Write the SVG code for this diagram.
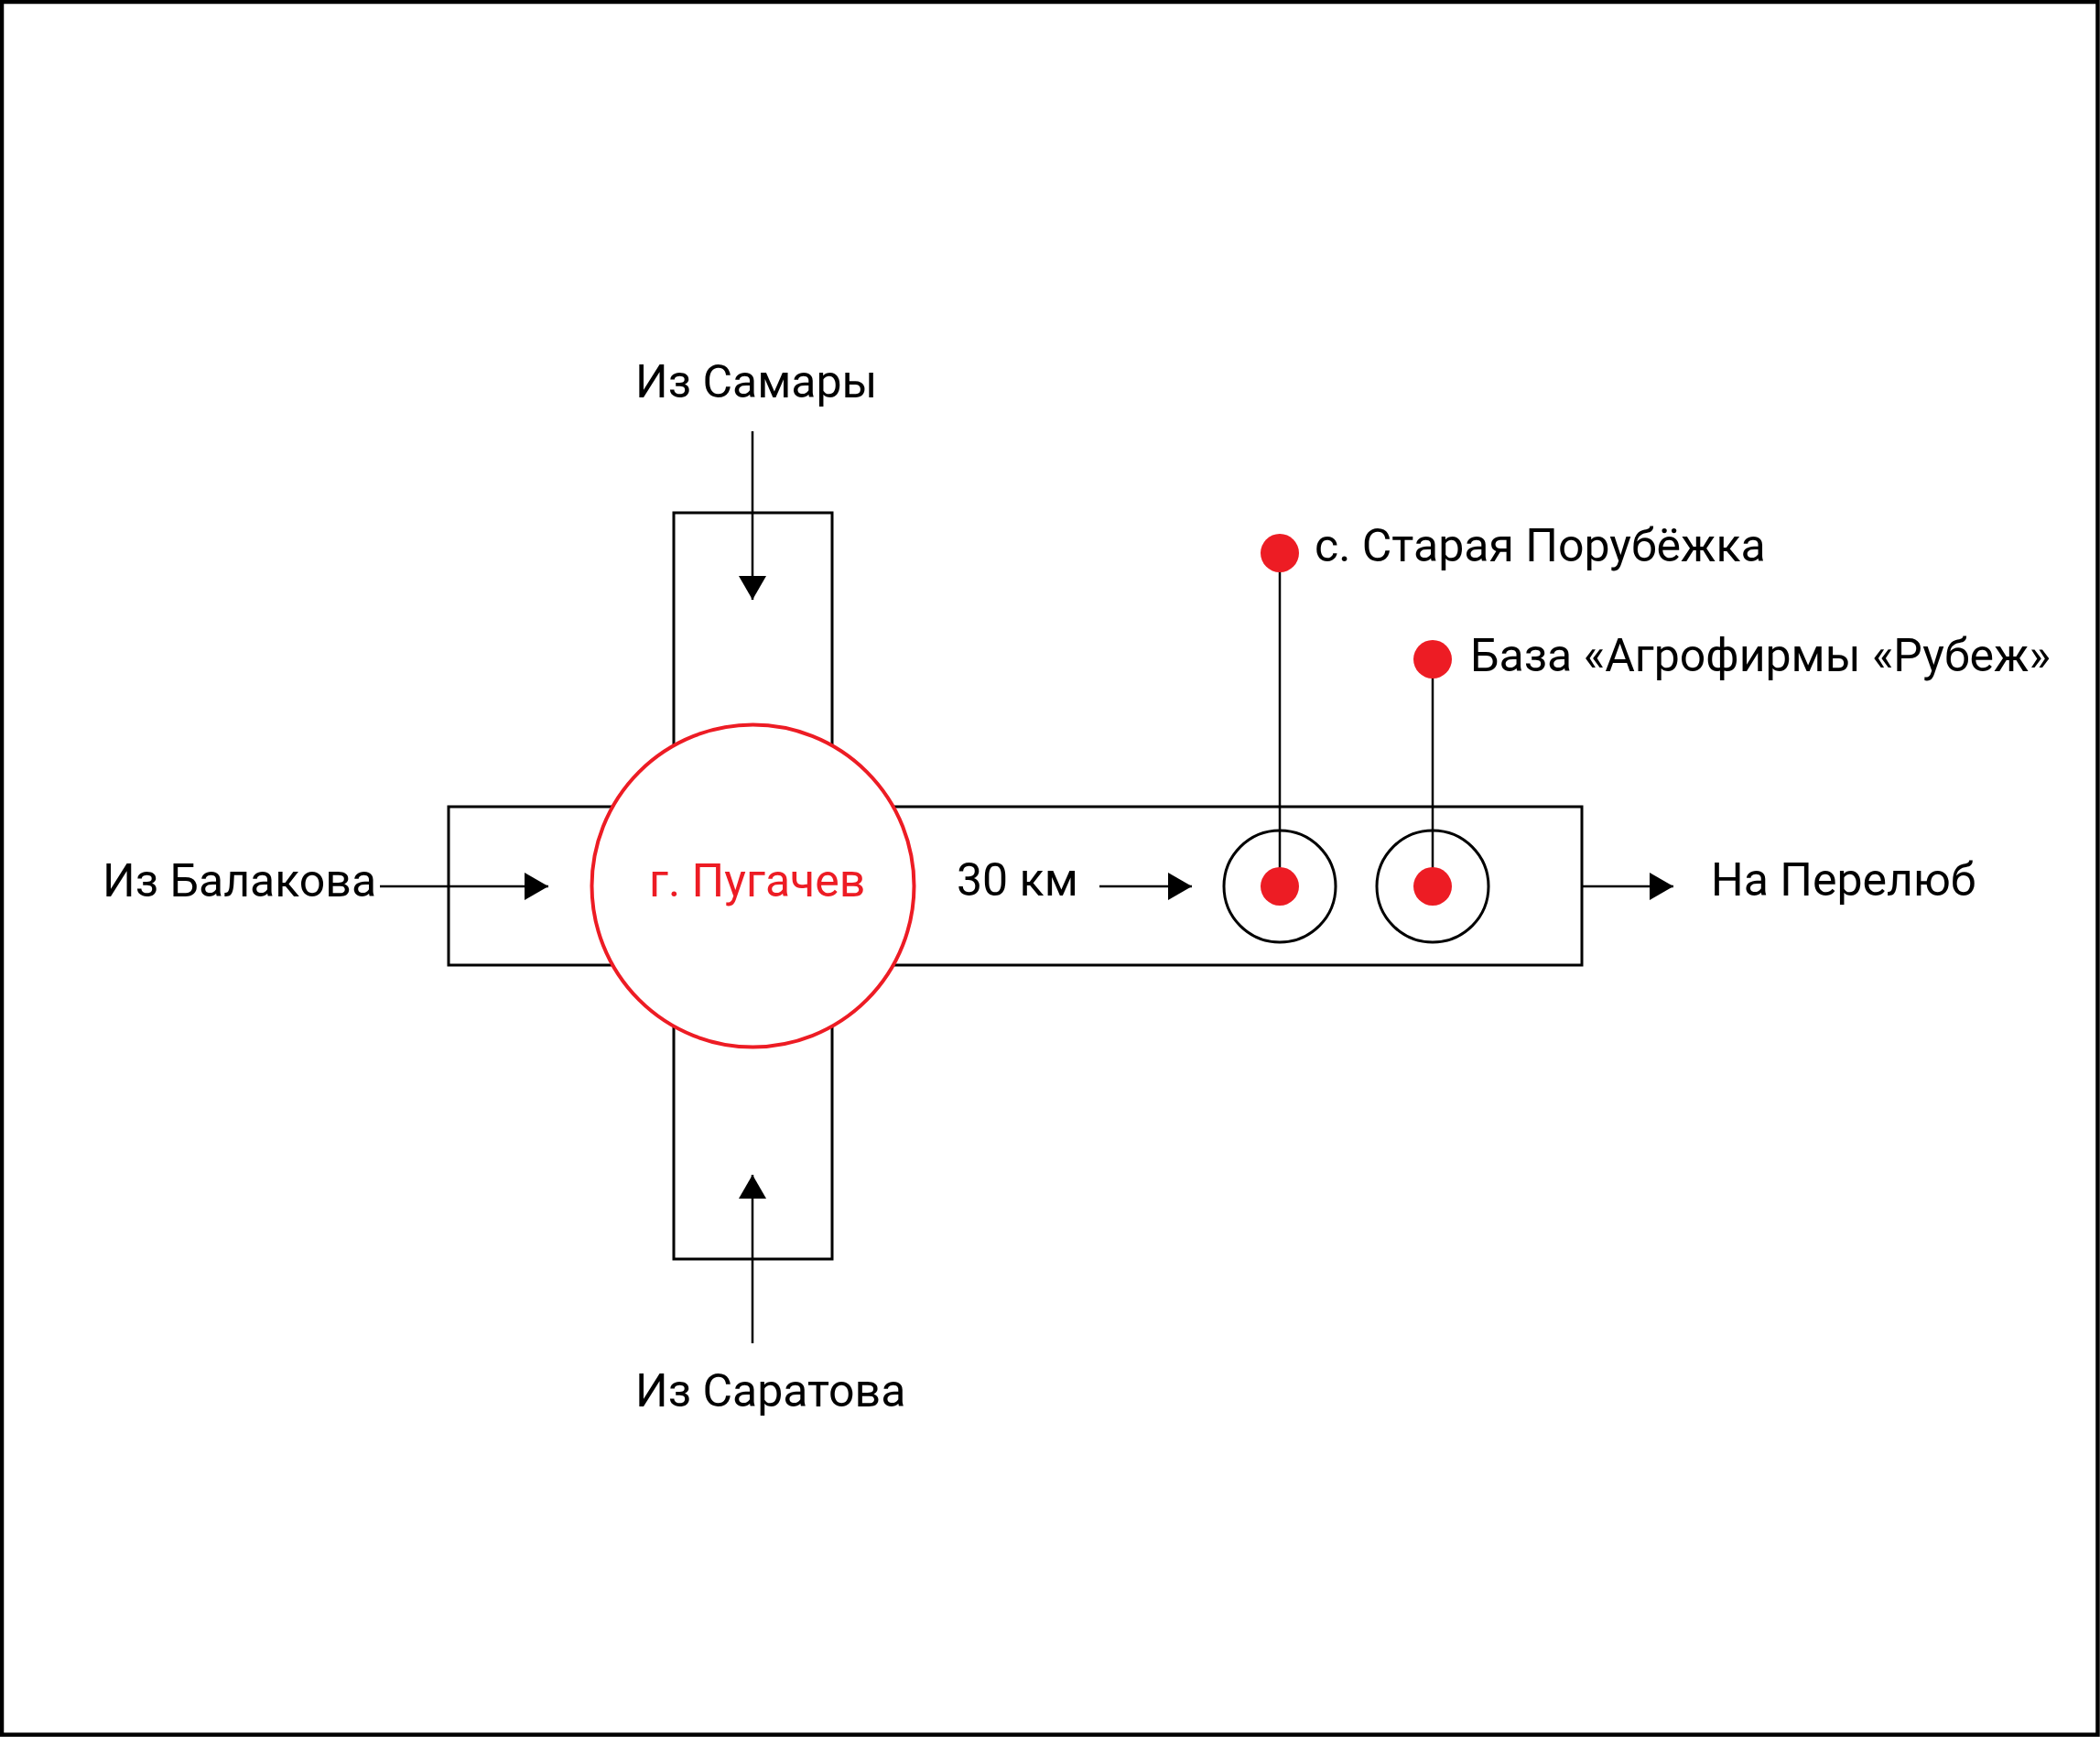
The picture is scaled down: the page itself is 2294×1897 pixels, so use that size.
<svg xmlns="http://www.w3.org/2000/svg" width="2294" height="1897" viewBox="0 0 2294 1897">
<style>
.lbl{font-family:Roboto,"Liberation Sans",sans-serif;font-size:50px;fill:#000}
.red{fill:#ED1C24}
.box{fill:none;stroke:#000;stroke-width:3}
.ln{fill:none;stroke:#000;stroke-width:2.5}
.ring{fill:#fff;stroke:#000;stroke-width:3}
</style>
<defs>
<marker id="ah" viewBox="0 0 26 30" refX="26" refY="15" markerWidth="26" markerHeight="30" markerUnits="userSpaceOnUse" orient="auto">
<path d="M0,0 L26,15 L0,30 Z" fill="#000"/>
</marker>
</defs>
<rect x="2" y="2" width="2289.5" height="1892.5" fill="#fff" stroke="#000" stroke-width="4.5"/>
<g id="roads">
<rect class="box" x="736" y="560" width="173" height="815"/>
<rect class="box" x="490" y="881" width="1238" height="173"/>
</g>
<g id="pugachev">
<circle cx="822.5" cy="967.5" r="176" fill="#fff" stroke="#ED1C24" stroke-width="4"/>
<text class="lbl red" x="709" y="979">г. Пугачев</text>
</g>
<g id="connectors">
<line class="ln" x1="822" y1="471" x2="822" y2="655" marker-end="url(#ah)"/>
<line class="ln" x1="822" y1="1467" x2="822" y2="1283" marker-end="url(#ah)"/>
<line class="ln" x1="415" y1="968" x2="599" y2="968" marker-end="url(#ah)"/>
<line class="ln" x1="1201" y1="968" x2="1302" y2="968" marker-end="url(#ah)"/>
<line class="ln" x1="1728" y1="968" x2="1828" y2="968" marker-end="url(#ah)"/>
</g>
<g id="staraya">
<circle class="ring" cx="1398" cy="968" r="61"/>
<line class="ln" x1="1398" y1="604" x2="1398" y2="968"/>
<circle class="red" cx="1398" cy="604" r="21"/>
<circle class="red" cx="1398" cy="968" r="21"/>
<text class="lbl" x="1436" y="613">с. Старая Порубёжка</text>
</g>
<g id="baza">
<circle class="ring" cx="1565" cy="968" r="61"/>
<line class="ln" x1="1565" y1="720" x2="1565" y2="968"/>
<circle class="red" cx="1565" cy="720" r="21"/>
<circle class="red" cx="1565" cy="968" r="21"/>
<text class="lbl" x="1606" y="733">База «Агрофирмы «Рубеж»</text>
</g>
<g id="labels">
<text class="lbl" x="694" y="434">Из Самары</text>
<text class="lbl" x="694" y="1536">Из Саратова</text>
<text class="lbl" x="112" y="979">Из Балакова</text>
<text class="lbl" x="1045" y="978">30 км</text>
<text class="lbl" x="1869" y="978">На Перелюб</text>
</g>
</svg>
